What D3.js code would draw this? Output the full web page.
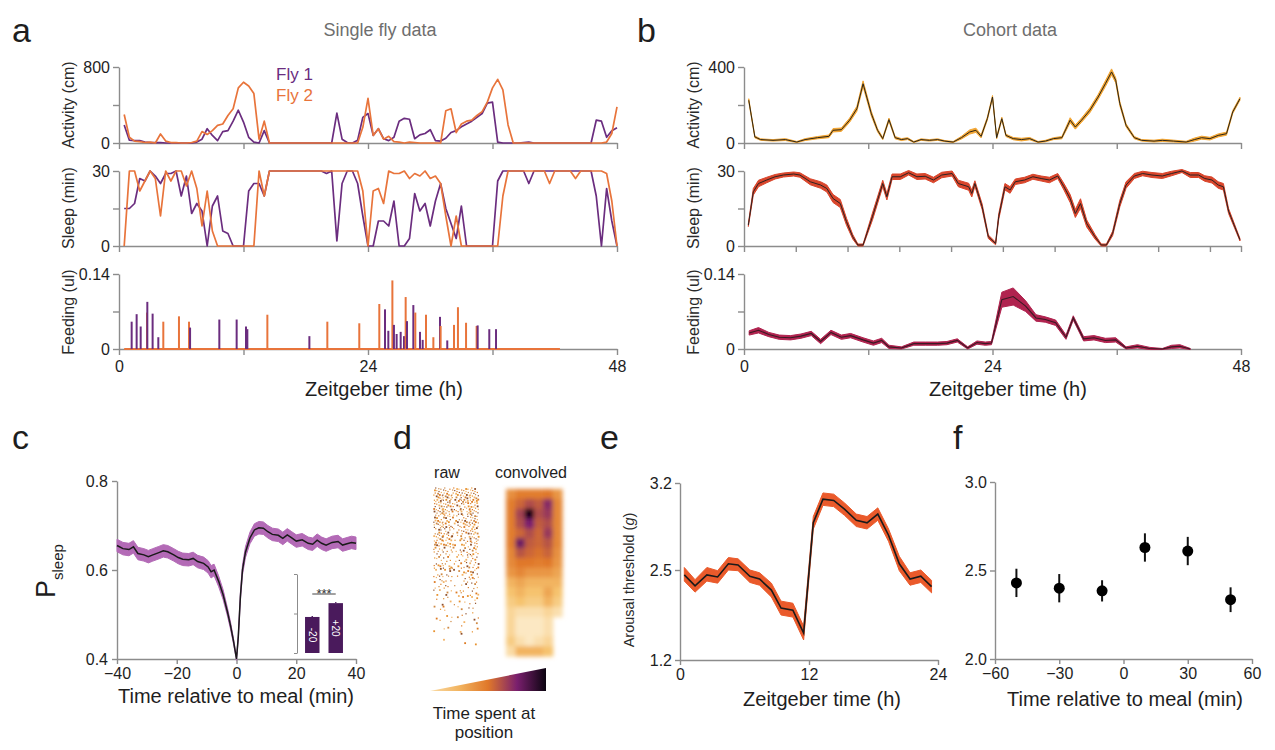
<!DOCTYPE html>
<html>
<head>
<meta charset="utf-8">
<script src="https://cdn.jsdelivr.net/npm/d3@7"></script>
<style>
  body { margin: 0; background: #fff; }
  svg { font-family: "Liberation Sans", Arial, sans-serif; }
  .axis .domain, .axis line { stroke: #8c8c8c; stroke-width: 1.4px; }
  .axis text { font-size: 16px; fill: #1e1e1e; font-family: "Liberation Sans", Arial, sans-serif; }
</style>
</head>
<body>
<script>

// ---------- panel a : single fly, 30 min bins (ZT 0.5 .. 48) ----------
var binTime = d3.range(96).map(function(i){ return 0.5 * (i + 1); });

var fly1Activity = [
  190,30,25,25,10,5,5,5,0,0,0,0,
  0,0,10,40,150,80,25,120,130,230,345,220,
  60,10,0,130,0,0,0,0,0,0,0,0,
  0,0,0,0,0,315,40,5,0,30,270,310,
  80,150,45,25,60,230,260,250,45,85,100,140,
  25,20,50,110,130,170,200,230,270,310,420,430,
  10,0,0,0,0,5,10,0,0,0,0,0,
  0,0,0,0,0,0,0,240,230,60,130,160];
var fly2Activity = [
  300,60,20,15,5,10,0,95,20,5,5,0,
  0,5,20,120,90,130,185,200,290,360,580,640,
  600,520,40,230,0,0,0,0,0,0,0,0,
  0,0,0,0,0,0,0,0,0,0,165,470,
  80,150,40,70,15,10,0,10,5,0,0,0,
  0,0,340,360,110,200,230,240,290,330,430,580,
  670,560,190,0,0,0,0,0,0,0,0,0,
  0,0,0,0,0,0,0,0,0,10,100,380];
var fly1Sleep = [
  15,15,17,27,26,30,28,25,29,29,30,20,
  28,13,17,14,0,16,20,6,5,0,0,0,
  22,25,25,20,30,30,30,30,30,30,30,30,
  30,30,30,29,30,2,25,30,30,25,12,0,
  0,10,10,8,18,0,0,3,21,14,17,8,
  18,25,15,9,3,16,0,0,0,0,0,0,
  26,30,30,30,30,30,25,30,30,30,30,30,
  30,30,30,30,30,30,30,20,0,23,10,0];
var fly2Sleep = [
  0,30,30,22,26,30,27,12,30,26,30,30,
  24,30,23,8,22,6,0,0,0,0,0,0,
  0,0,30,20,30,30,30,30,30,30,30,30,
  30,30,30,30,30,30,30,30,30,30,22,0,
  22,23,17,30,29,29,30,27,29,28,30,27,
  28,25,12,0,12,0,0,0,0,0,0,0,
  0,20,30,30,30,30,30,30,30,30,25,30,
  30,30,30,27,30,30,30,30,30,29,18,0];

// feeding events (ZT h, volume ul, fly)
var feedTime = [1.22,1.70,2.09,2.70,2.73,3.24,3.79,4.27,5.78,6.75,6.85,9.67,11.34,12.24,12.37,14.3,18.35,20.08,23.16,
  25.09,25.64,25.96,26.35,26.5,26.76,27.15,27.47,27.63,27.76,28.37,28.56,29.01,29.27,29.59,30.3,30.94,31.0,31.64,
  32.29,32.67,33.45,34.47,34.57,35.69,36.34];
var feedVol = [0.051,0.065,0.042,0.068,0.088,0.066,0.022,0.051,0.061,0.051,0.040,0.055,0.055,0.042,0.037,0.064,0.024,0.051,0.048,
  0.084,0.074,0.034,0.128,0.045,0.028,0.032,0.024,0.097,0.052,0.082,0.068,0.032,0.017,0.064,0.022,0.060,0.043,0.016,
  0.045,0.078,0.049,0.043,0.044,0.037,0.037];
var feedFly = [1,1,1,2,1,1,1,2,2,2,1,1,1,1,1,2,1,2,2,
  2,1,1,2,1,1,1,1,2,1,1,2,1,1,2,2,1,2,1,
  2,2,2,2,1,1,1];
var feedSpan = [0.5, 42.5];

// ---------- panel b : cohort, [ZT, mean, sem] ----------
var cohortActivity = [[0.46,225,8],[1.05,32,5],[1.6,18,4],[2.8,14,4],[4.0,18,5],[5.1,5,3],[5.9,18,5],[7.1,28,6],
  [8.2,35,7],[8.6,67,9],[9.4,70,9],[10.2,120,11],[10.9,180,13],[11.5,312,15],[12.3,154,12],[12.9,67,8],[13.4,23,6],
  [14.0,123,8],[14.6,28,6],[15.2,18,5],[15.8,23,5],[16.4,5,3],[17.1,18,4],[17.9,14,4],[18.7,18,4],[19.4,10,3],
  [20.2,5,3],[21.0,28,7],[21.8,58,11],[22.4,67,11],[22.9,35,8],[23.5,128,8],[24.0,242,8],[24.4,28,6],[24.9,128,8],
  [25.3,40,6],[26.0,23,6],[26.8,18,7],[27.6,23,6],[28.4,5,3],[29.1,10,4],[29.9,23,5],[30.7,28,6],[31.5,120,13],
  [32.0,84,11],[32.6,120,11],[33.4,172,13],[34.2,242,13],[34.9,312,15],[35.5,374,16],[35.9,330,13],[36.3,207,11],
  [36.9,93,8],[37.7,28,6],[38.4,14,4],[39.6,10,5],[40.4,14,6],[41.5,10,5],[42.7,5,4],[43.5,18,8],[44.2,28,8],
  [45.0,23,7],[45.8,40,8],[46.6,49,8],[47.2,163,8],[47.9,233,8]];
var cohortSleep = [[0.42,8.4,0.6],[0.9,21.7,1.3],[1.4,25,1.3],[2.2,26.4,1.1],[3.0,27.7,0.9],[3.8,28.4,0.8],[4.8,28.8,0.8],
  [5.4,28.4,0.9],[6.4,25.7,1.2],[7.4,24.4,1.3],[8.0,23,1.4],[8.6,19,1.6],[9.3,17,1.6],[9.9,9.7,1.4],[10.5,3.7,0.9],
  [11.0,0.4,0.4],[11.5,0.4,0.4],[12.4,11.7,1.4],[13.4,25,1.3],[13.8,19.7,1.3],[14.3,27.7,1.1],[15.1,27.7,1.1],[15.9,29.3,0.9],
  [16.7,27.7,1.1],[17.5,27.9,1.1],[18.3,26.4,1.1],[19.1,28.4,1.1],[20.1,29,1.0],[20.7,25,1.3],[21.7,23.7,1.4],[22.0,21,1.4],
  [22.3,25,1.1],[23.0,15.7,1.1],[23.6,3.7,0.7],[24.3,1,0.5],[24.6,11.7,1.1],[25.2,23.7,1.3],[25.7,22.4,1.3],[26.2,25.7,1.1],
  [27.1,26.4,1.1],[27.9,27.7,1.0],[28.7,27,1.0],[29.5,26.4,1.1],[30.3,28,1.0],[30.9,23.7,1.3],[31.5,19,1.6],[32.0,13,1.6],
  [32.5,17,1.9],[33.1,9,1.4],[33.9,3.7,0.9],[34.5,0.4,0.4],[35.0,0.4,0.4],[35.6,5,0.9],[36.3,17,1.3],[36.9,24.4,1.3],
  [37.7,28,1.0],[38.5,29,0.9],[39.4,28.4,1.0],[40.4,28,1.0],[41.3,29,0.9],[42.3,30,0.6],[43.1,28.4,1.0],[43.9,28.4,1.0],
  [44.5,27,1.1],[45.2,26.4,1.2],[45.8,24.4,1.3],[46.3,23.7,1.3],[46.8,14,1.0],[47.9,2.5,0.5]];
var cohortFeeding = [[0.5,0.030,0.004],[1.4,0.035,0.005],[2.4,0.027,0.004],[3.4,0.022,0.004],[4.5,0.021,0.004],
  [5.5,0.024,0.004],[6.5,0.029,0.004],[7.4,0.014,0.004],[8.4,0.031,0.004],[9.4,0.022,0.004],[10.3,0.025,0.004],
  [11.5,0.017,0.004],[12.5,0.011,0.004],[13.3,0.016,0.004],[14.0,0.004,0.003],[15.2,0.002,0.002],[16.4,0.010,0.003],
  [17.5,0.010,0.003],[18.7,0.010,0.003],[19.6,0.011,0.003],[20.6,0.016,0.003],[21.6,0.002,0.002],[22.5,0.012,0.003],
  [23.3,0.010,0.003],[23.9,0.011,0.003],[24.9,0.092,0.014],[26.0,0.098,0.016],[27.2,0.080,0.010],[28.2,0.058,0.006],
  [29.1,0.055,0.005],[30.1,0.049,0.005],[31.1,0.022,0.004],[31.8,0.058,0.004],[32.8,0.019,0.004],[33.8,0.021,0.004],
  [34.9,0.016,0.004],[35.9,0.017,0.004],[36.9,0.002,0.002],[38.0,0.005,0.003],[39.2,0.001,0.002],[40.4,0.000,0.001],
  [41.3,0.004,0.003],[42.1,0.005,0.003],[43.1,0.000,0.001]];

// ---------- panel c : P(sleep) around meals, [min, mean, sem] ----------
var pSleep = [[-40,0.655,0.014],[-38,0.648,0.014],[-36,0.646,0.014],[-34.5,0.652,0.014],[-33,0.637,0.014],
  [-31,0.634,0.014],[-29.5,0.630,0.014],[-28,0.634,0.014],[-26,0.639,0.014],[-24.5,0.643,0.014],[-23,0.641,0.014],
  [-21,0.634,0.014],[-19.5,0.628,0.014],[-18,0.624,0.014],[-16,0.623,0.014],[-14.5,0.626,0.014],[-13,0.619,0.014],
  [-11,0.615,0.014],[-9.5,0.607,0.014],[-8.5,0.596,0.014],[-7.5,0.600,0.013],[-6,0.575,0.012],[-4.5,0.545,0.011],
  [-3,0.505,0.009],[-2,0.475,0.008],[-1,0.440,0.006],[0,0.400,0.003],[0.6,0.450,0.006],[1.3,0.540,0.009],
  [2,0.600,0.011],[3,0.640,0.012],[4.5,0.672,0.013],[6,0.690,0.014],[7.5,0.695,0.014],[9,0.694,0.014],
  [10.5,0.686,0.014],[12,0.680,0.014],[14,0.678,0.014],[15.5,0.671,0.014],[17,0.679,0.014],[18.5,0.672,0.014],
  [20,0.665,0.014],[22,0.668,0.014],[24,0.660,0.014],[25.5,0.658,0.014],[27,0.667,0.014],[28.5,0.660,0.014],
  [30,0.656,0.014],[32,0.662,0.014],[34,0.664,0.014],[35.5,0.656,0.014],[37,0.659,0.014],[38.5,0.662,0.014],
  [40,0.660,0.014]];
var insetLabels = ["-20", "+20"];
var insetValues = [0.365, 0.505];
var insetSem = [0.01, 0.01];

// ---------- panel d : position heat maps ----------
var rawDensity = [
  [0.95,0.9,0.85,0.9,0.95],[0.9,0.85,0.6,0.8,0.9],[0.85,0.8,0.5,0.75,0.9],[0.8,0.7,0.4,0.65,0.8],
  [0.7,0.6,0.35,0.55,0.7],[0.55,0.5,0.3,0.5,0.6],[0.45,0.4,0.2,0.4,0.5],[0.3,0.3,0.2,0.3,0.4],
  [0.2,0.2,0.15,0.2,0.3],[0.1,0.15,0.1,0.15,0.2],[0.05,0.1,0.05,0.1,0.1],[0,0.05,0,0.05,0.05]];
var convolved = [
  [0.42,0.48,0.48,0.48,0.50,0.40],[0.48,0.55,0.62,0.58,0.72,0.45],[0.48,0.65,0.98,0.62,0.68,0.45],
  [0.48,0.62,0.75,0.58,0.62,0.45],[0.48,0.55,0.62,0.55,0.68,0.45],[0.48,0.78,0.58,0.55,0.60,0.45],
  [0.45,0.60,0.55,0.52,0.56,0.42],[0.44,0.50,0.50,0.48,0.50,0.40],[0.40,0.45,0.40,0.40,0.40,0.35],
  [0.30,0.35,0.30,0.30,0.30,0.30],[0.25,0.30,0.25,0.25,0.35,0.25],[0.20,0.25,0.20,0.20,0.30,0.20],
  [0.15,0.10,0.10,0.10,0.15,0.10],[0.15,0.05,0.05,0.05,0.10,0.00],[0.15,0.05,0.05,0.05,0.10,0.00],
  [0.20,0.10,0.05,0.10,0.15,0.00],[0.12,0.30,0.30,0.30,0.25,0.00]];
// fixed sub-cell spots for the raw speckle
var dotSpots = [[.12,.18],[.58,.08],[.86,.36],[.31,.62],[.72,.77],[.09,.93],[.47,.43],[.93,.86],[.24,.03],[.66,.52],
  [.03,.55],[.81,.12],[.38,.88],[.6,.29],[.18,.4],[.51,.7],[.97,.6],[.35,.22],[.77,.96],[.07,.74]];
var rawColors = ["#e7922f", "#cf8a45", "#f2b366", "#8e4f2b", "#dd7a22"];

// ---------- panel e : arousal threshold across the day, [ZT, mean, sem] ----------
var arousalDay = [[0.4,2.43,0.09],[1.4,2.27,0.09],[2.5,2.43,0.09],[3.5,2.40,0.09],[4.5,2.55,0.05],[5.4,2.54,0.05],
  [6.5,2.41,0.09],[7.4,2.37,0.09],[8.5,2.21,0.1],[9.4,1.95,0.1],[10.5,1.92,0.1],[11.5,1.59,0.1],[12.4,2.88,0.05],
  [13.3,3.07,0.05],[14.3,3.06,0.05],[15.3,2.99,0.05],[16.4,2.90,0.05],[17.4,2.88,0.05],[18.4,2.95,0.05],
  [19.4,2.78,0.05],[20.4,2.55,0.06],[21.4,2.37,0.09],[22.4,2.41,0.09],[23.4,2.26,0.09]];

// ---------- panel f : arousal threshold around meals ----------
var mealTime = [-50, -30, -10, 10, 30, 50];
var mealArousal = [2.43, 2.40, 2.385, 2.63, 2.61, 2.335];
var mealSem = [0.08, 0.08, 0.06, 0.08, 0.08, 0.07];


var svg = d3.select("body").append("svg").attr("width", 1275).attr("height", 750);
svg.append("rect").attr("width", 1275).attr("height", 750).attr("fill", "#fff");
var defs = svg.append("defs");

function txt(x, y, s, size, opts) {
  opts = opts || {};
  return svg.append("text").attr("x", x).attr("y", y).text(s)
    .attr("font-size", size + "px")
    .attr("fill", opts.fill || "#1e1e1e")
    .attr("text-anchor", opts.anchor || "start");
}
function yTitle(x, y, s, size) {
  return svg.append("text").attr("transform", "translate(" + x + "," + y + ") rotate(-90)")
    .attr("text-anchor", "middle").attr("font-size", size + "px").attr("fill", "#2a2a2a").text(s);
}
function leftAxis(y, at, ticks, fmt, size, pad) {
  return svg.append("g").attr("class", "axis").attr("transform", "translate(" + at + ",0)")
    .call(d3.axisLeft(y).tickValues(ticks).tickSize(size || 6).tickSizeOuter(0).tickPadding(pad || 3).tickFormat(fmt));
}
function bottomAxis(x, at, ticks, fmt, size, pad) {
  return svg.append("g").attr("class", "axis").attr("transform", "translate(0," + at + ")")
    .call(d3.axisBottom(x).tickValues(ticks).tickSize(size || 6).tickSizeOuter(0).tickPadding(pad || 6).tickFormat(fmt));
}
function bandLine(x, y, rows, fill, lw, lineCol) {
  var area = d3.area().x(function(d){ return x(d[0]); })
    .y0(function(d){ return y(d[1] - d[2]); }).y1(function(d){ return y(d[1] + d[2]); });
  var line = d3.line().x(function(d){ return x(d[0]); }).y(function(d){ return y(d[1]); });
  svg.append("path").datum(rows).attr("d", area).attr("fill", fill).attr("stroke", fill).attr("stroke-width", 1);
  svg.append("path").datum(rows).attr("d", line).attr("fill", "none").attr("stroke", lineCol || "#1a1a1a").attr("stroke-width", lw || 1.2);
}
var onlyDays = function(d){ return d % 24 === 0 ? d : ""; };
var blank = function(){ return ""; };

// ===== letters and titles =====
txt(12, 42, "a", 34);
txt(637, 42, "b", 34);
txt(380, 36, "Single fly data", 18, {fill: "#6e6e6e", anchor: "middle"});
txt(1010, 36, "Cohort data", 18, {fill: "#6e6e6e", anchor: "middle"});
txt(12, 449, "c", 34);
txt(393, 449, "d", 34);
txt(600, 449, "e", 34);
txt(953, 449, "f", 34);

// ===== panel a =====
var colFly1 = "#6b2d7f", colFly2 = "#e8743b";
var xA = d3.scaleLinear().domain([0, 48]).range([119, 617]);
var actA = d3.scaleLinear().domain([0, 800]).range([143, 67]);
var slpA = d3.scaleLinear().domain([0, 30]).range([246, 171]);
var fedA = d3.scaleLinear().domain([0, 0.14]).range([349, 274]);

leftAxis(actA, 119, [0, 400, 800], function(d){ return d === 400 ? "" : d; });
leftAxis(slpA, 119, [0, 15, 30], function(d){ return d === 15 ? "" : d; });
leftAxis(fedA, 119, [0, 0.07, 0.14], function(d){ return d === 0.07 ? "" : d; });
bottomAxis(xA, 143, [0, 12, 24, 36, 48], blank);
bottomAxis(xA, 246, [0, 12, 24, 36, 48], blank);
bottomAxis(xA, 349, [0, 12, 24, 36, 48], onlyDays);
yTitle(74, 105, "Activity (cm)", 16);
yTitle(74, 208, "Sleep (min)", 16);
yTitle(74, 312, "Feeding (ul)", 16);
txt(305, 396, "Zeitgeber time (h)", 20);

function flyLine(yScale, values, col) {
  svg.append("path").datum(values)
    .attr("d", d3.line().x(function(d, i){ return xA(binTime[i]); }).y(function(d){ return yScale(d); }))
    .attr("fill", "none").attr("stroke", col).attr("stroke-width", 1.7).attr("stroke-linejoin", "round");
}
flyLine(actA, fly1Activity, colFly1);
flyLine(actA, fly2Activity, colFly2);
flyLine(slpA, fly1Sleep, colFly1);
flyLine(slpA, fly2Sleep, colFly2);

svg.append("line").attr("x1", xA(feedSpan[0])).attr("x2", xA(feedSpan[1]))
  .attr("y1", fedA(0)).attr("y2", fedA(0)).attr("stroke", colFly2).attr("stroke-width", 1.8);
svg.append("g").selectAll("line").data(feedTime).enter().append("line")
  .attr("x1", function(d){ return xA(d); }).attr("x2", function(d){ return xA(d); })
  .attr("y1", fedA(0)).attr("y2", function(d, i){ return fedA(feedVol[i]); })
  .attr("stroke", function(d, i){ return feedFly[i] === 1 ? colFly1 : colFly2; })
  .attr("stroke-width", 2);

txt(276, 80, "Fly 1", 17, {fill: colFly1});
txt(276, 101, "Fly 2", 17, {fill: colFly2});

// ===== panel b =====
var xB = d3.scaleLinear().domain([0, 48]).range([744, 1241]);
var actB = d3.scaleLinear().domain([0, 400]).range([143, 67]);
var slpB = d3.scaleLinear().domain([0, 30]).range([246, 171]);
var fedB = d3.scaleLinear().domain([0, 0.14]).range([349, 274]);

leftAxis(actB, 744, [0, 200, 400], function(d){ return d === 200 ? "" : d; });
leftAxis(slpB, 744, [0, 15, 30], function(d){ return d === 15 ? "" : d; });
leftAxis(fedB, 744, [0, 0.07, 0.14], function(d){ return d === 0.07 ? "" : d; });
bottomAxis(xB, 143, [0, 12, 24, 36, 48], blank);
bottomAxis(xB, 246, [0, 5, 10, 15, 20, 25, 30, 35, 40, 45, 48], blank);
bottomAxis(xB, 349, [0, 12, 24, 36, 48], onlyDays);
yTitle(699, 105, "Activity (cm)", 16);
yTitle(699, 208, "Sleep (min)", 16);
yTitle(699, 312, "Feeding (ul)", 16);
txt(929, 396, "Zeitgeber time (h)", 20);

bandLine(xB, actB, cohortActivity, "#f2a533", 1, "#2a2418");
bandLine(xB, slpB, cohortSleep, "#d9462c", 1, "#2a2222");
bandLine(xB, fedB, cohortFeeding, "#b0234f", 1.1, "#3a1a24");

// ===== panel c =====
var xC = d3.scaleLinear().domain([-40, 40]).range([117, 356]);
var yC = d3.scaleLinear().domain([0.4, 0.8]).range([659, 481]);
leftAxis(yC, 117, [0.4, 0.6, 0.8], d3.format(".1f"), 5, 4);
bottomAxis(xC, 659, [-40, -20, 0, 20, 40], d3.format("d"), 5, 4);
bandLine(xC, yC, pSleep, "#b36ab6", 1.5);
txt(236, 703, "Time relative to meal (min)", 20, {anchor: "middle"});
var pLab = svg.append("text").attr("transform", "translate(55,598) rotate(-90)").attr("fill", "#1e1e1e");
pLab.append("tspan").attr("font-size", "27px").text("P");
pLab.append("tspan").attr("font-size", "15px").attr("dy", 8).text("sleep");

// inset bars
var inY = d3.scaleLinear().domain([0, 0.8]).range([653, 574]);
var inX = d3.scaleBand().domain(insetLabels).range([298, 350]).paddingInner(0.383).paddingOuter(0.3);
svg.append("g").attr("class", "axis").attr("transform", "translate(297,0)")
  .call(d3.axisLeft(inY).tickValues([0, 0.4, 0.8]).tickSize(3).tickSizeOuter(0).tickFormat(blank))
  .selectAll(".domain, line").style("stroke-width", "1px");
svg.append("g").selectAll("rect").data(insetValues).enter().append("rect")
  .attr("x", function(d, i){ return inX(insetLabels[i]); }).attr("width", inX.bandwidth())
  .attr("y", function(d){ return inY(d); }).attr("height", function(d){ return inY(0) - inY(d); })
  .attr("fill", "#4a1a5c");
svg.append("g").selectAll("line").data(insetValues).enter().append("line")
  .attr("x1", function(d, i){ return inX(insetLabels[i]) + inX.bandwidth() / 2; })
  .attr("x2", function(d, i){ return inX(insetLabels[i]) + inX.bandwidth() / 2; })
  .attr("y1", function(d){ return inY(d); }).attr("y2", function(d, i){ return inY(d + insetSem[i]); })
  .attr("stroke", "#4a1a5c").attr("stroke-width", 1.5);
svg.append("g").selectAll("text").data(insetValues).enter().append("text")
  .attr("transform", function(d, i){
    return "translate(" + (inX(insetLabels[i]) + inX.bandwidth() / 2 - 3.5) + "," + ((inY(d) + inY(0)) / 2) + ") rotate(90)";
  })
  .attr("text-anchor", "middle").attr("font-size", "10px").attr("fill", "#fff")
  .text(function(d, i){ return insetLabels[i]; });
svg.append("line").attr("x1", inX("-20") + inX.bandwidth() / 2).attr("x2", inX("+20") + inX.bandwidth() / 2)
  .attr("y1", 594).attr("y2", 594).attr("stroke", "#444").attr("stroke-width", 1);
txt((inX("-20") + inX("+20") + inX.bandwidth()) / 2, 598, "***", 13, {anchor: "middle", fill: "#333"});

// ===== panel d =====
var heat = d3.scaleLinear().domain([0, 0.25, 0.5, 0.75, 1])
  .range(["#fdf1d8", "#f6c36e", "#e0782a", "#7a1f6e", "#0b0410"]);
defs.append("filter").attr("id", "soft").attr("x", "-20%").attr("y", "-10%").attr("width", "140%").attr("height", "120%")
  .append("feGaussianBlur").attr("stdDeviation", 2.2);

var rawX = d3.scaleBand().domain(d3.range(5)).range([433, 478]);
var rawY = d3.scaleBand().domain(d3.range(12)).range([487, 650]);
var rawG = svg.append("g");
rawDensity.forEach(function(row, r){
  row.forEach(function(v, c){
    var n = Math.round(v * dotSpots.length);
    var start = (r * 7 + c * 3) % dotSpots.length;
    var spots = dotSpots.slice(start).concat(dotSpots.slice(0, start)).slice(0, n);
    rawG.selectAll(null).data(spots).enter().append("rect")
      .attr("x", function(p){ return rawX(c) + p[0] * rawX.bandwidth(); })
      .attr("y", function(p){ return rawY(r) + p[1] * rawY.bandwidth(); })
      .attr("width", function(p, k){ return k % 3 === 0 ? 1.8 : 1.2; })
      .attr("height", function(p, k){ return k % 3 === 0 ? 1.8 : 1.2; })
      .attr("fill", function(p, k){ return rawColors[(k + r + c) % rawColors.length]; });
  });
});

var convX = d3.scaleBand().domain(d3.range(6)).range([506, 562]);
var convY = d3.scaleBand().domain(d3.range(17)).range([489, 656]);
var convG = svg.append("g").attr("filter", "url(#soft)");
convolved.forEach(function(row, r){
  convG.selectAll(null).data(row).enter().append("rect")
    .attr("x", function(v, c){ return convX(c); }).attr("y", convY(r))
    .attr("width", convX.bandwidth() + 0.6).attr("height", convY.bandwidth() + 0.6)
    .attr("fill", function(v){ return heat(v); })
    .attr("opacity", function(v){ return v === 0 ? 0 : 1; });
});
txt(447, 478, "raw", 16, {anchor: "middle"});
txt(531, 478, "convolved", 16, {anchor: "middle"});

var grad = defs.append("linearGradient").attr("id", "heatGrad");
[0.12, 0.3, 0.5, 0.75, 1].forEach(function(v, i, arr){
  grad.append("stop").attr("offset", (i / (arr.length - 1)) * 100 + "%").attr("stop-color", heat(v));
});
svg.append("path").attr("d", "M430,691L546,691L546,668Z").attr("fill", "url(#heatGrad)");
txt(484, 719, "Time spent at", 17, {anchor: "middle"});
txt(484, 738, "position", 17, {anchor: "middle"});

// ===== panel e =====
var xE = d3.scaleLinear().domain([0, 24]).range([680, 938]);
var yE = d3.scaleLinear().domain([1.2, 2.5, 3.2]).range([660, 570, 483]);
leftAxis(yE, 680, [1.2, 2.5, 3.2], d3.format(".1f"), 5, 3);
bottomAxis(xE, 660, [0, 12, 24], d3.format("d"), 5, 4);
bandLine(xE, yE, arousalDay, "#ea5a2b", 1.6);
txt(822, 706, "Zeitgeber time (h)", 20, {anchor: "middle"});
var aLab = svg.append("text").attr("transform", "translate(634,580) rotate(-90)").attr("text-anchor", "middle")
  .attr("font-size", "14.5px").attr("fill", "#2a2a2a");
aLab.append("tspan").text("Arousal threshold (");
aLab.append("tspan").attr("font-style", "italic").text("g");
aLab.append("tspan").text(")");

// ===== panel f =====
var xF = d3.scaleLinear().domain([-60, 60]).range([995, 1252]);
var yF = d3.scaleLinear().domain([2.0, 3.0]).range([659, 482]);
leftAxis(yF, 995, [2.0, 2.5, 3.0], d3.format(".1f"), 5, 3);
bottomAxis(xF, 659, [-60, -30, 0, 30, 60], d3.format("d"), 5, 4);
svg.append("g").selectAll("line").data(mealTime).enter().append("line")
  .attr("x1", function(d){ return xF(d); }).attr("x2", function(d){ return xF(d); })
  .attr("y1", function(d, i){ return yF(mealArousal[i] - mealSem[i]); })
  .attr("y2", function(d, i){ return yF(mealArousal[i] + mealSem[i]); })
  .attr("stroke", "#111").attr("stroke-width", 2);
svg.append("g").selectAll("circle").data(mealTime).enter().append("circle")
  .attr("cx", function(d){ return xF(d); }).attr("cy", function(d, i){ return yF(mealArousal[i]); })
  .attr("r", 5.5).attr("fill", "#000");
txt(1125, 706, "Time relative to meal (min)", 20, {anchor: "middle"});

</script>
</body>
</html>
